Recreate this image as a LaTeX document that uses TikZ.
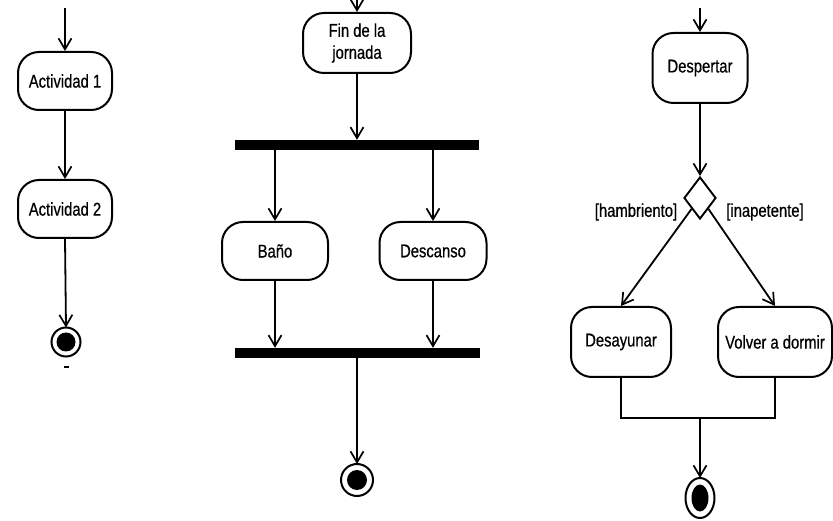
\documentclass[tikz,border=0pt]{standalone}
\usepackage{fontspec}
\setmainfont[FakeStretch=0.8,FakeBold=0.6]{Liberation Sans}
\usetikzlibrary{arrows.meta,shapes.geometric}

\begin{document}
\begin{tikzpicture}[x=1pt,y=-1pt,
  every node/.style={font=\fontsize{18.5}{22}\selectfont},
  activity/.style={draw,line width=2pt,rounded corners=21pt,inner sep=0pt,
    minimum height=58pt,align=center},
  bar/.style={fill=black,draw=none,minimum height=10pt,inner sep=0pt},
  decision/.style={diamond,draw,line width=1.9pt,inner sep=0pt,
    minimum width=32pt,minimum height=42pt},
  flow/.style={line width=1.8pt,-{Straight Barb[length=11pt,width=13pt,line width=1.7pt]}},
  plain/.style={line width=1.9pt},
  guard/.style={inner sep=0pt}]
\useasboundingbox (0,0) rectangle (833,521);

% ---- sequential activities ----
\coordinate (s1) at (65,8);
\node[activity,minimum width=94pt] (act1) at (65,81) {Actividad 1};
\node[activity,minimum width=94pt] (act2) at (65,209) {Actividad 2};
\coordinate (e1) at (66,342);
\draw[line width=2pt] (e1) circle[radius=14.5pt];
\fill (e1) circle[radius=9.5pt];
\coordinate (e1top) at (66,327.5);
\draw[flow] (s1) -- (act1.north);
\draw[flow] (act1) -- (act2);
\draw[flow] (act2.south) -- (e1top);
\draw[line width=1.2pt] (63.5,367) -- (68.5,367);

% ---- fork / join ----
\coordinate (s2) at (357,0);
\node[activity,minimum width=108pt,minimum height=60pt] (fin) at (357,43) {Fin de la\\jornada};
\node[bar,minimum width=244pt] (fork) at (357,145) {};
\node[activity,minimum width=106pt] (bano) at (275,251) {Baño};
\node[activity,minimum width=107pt] (desc) at (433,251) {Descanso};
\node[bar,minimum width=245pt] (join) at (357,353) {};
\coordinate (e2) at (357,480);
\draw[line width=2pt] (e2) circle[radius=16pt];
\fill (e2) circle[radius=10pt];
\coordinate (e2top) at (357,464);
\draw[flow] (s2) -- (fin.north);
\draw[flow] (fin.south) -- (fork.north);
\draw[flow] (bano.north |- fork.south) -- (bano.north);
\draw[flow] (desc.north |- fork.south) -- (desc.north);
\draw[flow] (bano.south) -- (bano.south |- join.north);
\draw[flow] (desc.south) -- (desc.south |- join.north);
\draw[flow] (join.south) -- (e2top);

% ---- decision / merge ----
\coordinate (s3) at (700,8);
\node[activity,minimum width=95pt,minimum height=70pt] (desp) at (700,68) {Despertar};
\node[decision] (dec) at (700,198) {};
\node[guard] (lh) at (636,212) {[hambriento]};
\node[guard] (li) at (765,212) {[inapetente]};
\node[activity,minimum width=100pt,minimum height=70pt] (desa) at (621,342) {Desayunar};
\node[activity,minimum width=114pt,minimum height=70pt] (volv) at (775,342) {Volver a dormir};
\coordinate (m) at (700,418);
\coordinate (e3) at (700,498);
\draw[line width=2pt] (e3) ellipse[x radius=14.5pt,y radius=20pt];
\fill (e3) ellipse[x radius=8.5pt,y radius=13.5pt];
\coordinate (e3top) at (700,478);
\draw[flow] (s3) -- (desp.north);
\draw[flow] (desp.south) -- (dec.north);
\draw[flow] (dec.south west) -- (desa.north);
\draw[flow] (dec.south east) -- (volv.north);
\draw[plain] (desa.south) -- (desa.south |- m) -- (volv.south |- m) -- (volv.south);
\draw[flow] (m) -- (e3top);
\end{tikzpicture}
\end{document}
